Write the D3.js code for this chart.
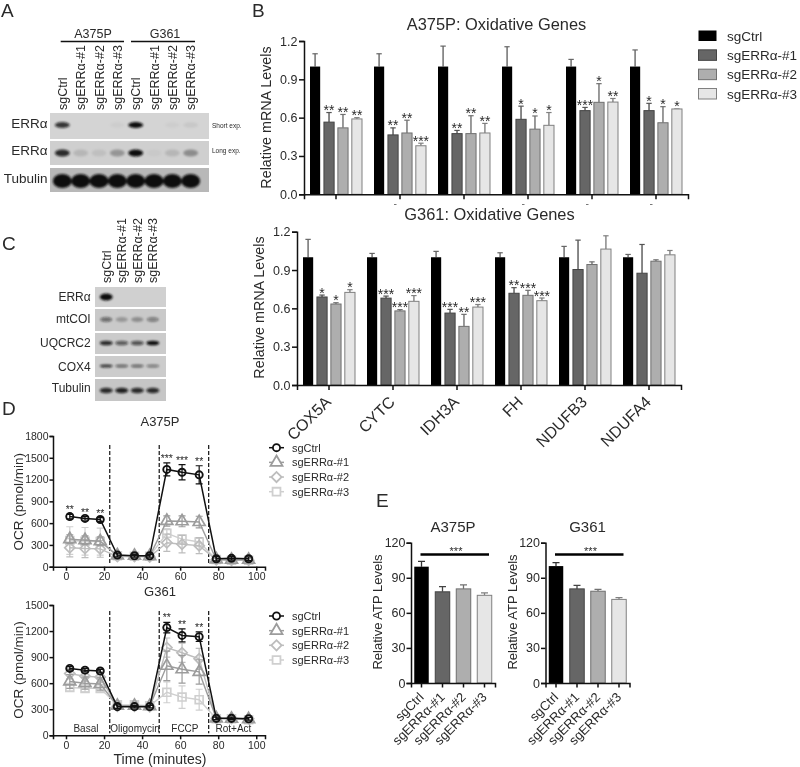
<!DOCTYPE html>
<html>
<head>
<meta charset="utf-8">
<script src="https://cdn.jsdelivr.net/npm/d3@7"></script>
<style>
  body { margin: 0; background: #fff; }
  svg { opacity: 0.999; }
  text { font-family: "Liberation Sans", Arial, sans-serif; fill: #2a2a2a; }
  .axis path, .axis line { stroke: #111; stroke-width: 1.5; }
  .axis text { fill: #2a2a2a; font-family: "Liberation Sans", Arial, sans-serif; }
</style>
</head>
<body>
<div id="figure"></div>
<script>
// groups used everywhere
var seriesNames = ["sgCtrl", "sgERRα-#1", "sgERRα-#2", "sgERRα-#3"];
var genes = ["COX5A", "CYTC", "IDH3A", "FH", "NDUFB3", "NDUFA4"];

// panel B, A375P (means, tops of the whiskers, stars), one row per gene
var a375Mean = [[1, .565, .52, .59], [1, .465, .48, .38], [1, .475, .475, .48],
  [1, .587, .51, .54], [1, .655, .72, .722], [1, .655, .56, .668]];
var a375Top = [[1.10, .64, .625, .60], [1.10, .52, .58, .40], [1.16, .50, .615, .555],
  [1.155, .69, .613, .64], [1.056, .68, .866, .75], [1.13, .712, .686, .668]];
var a375Stars = [["", "**", "**", "**"], ["", "**", "**", "***"], ["", "**", "**", "**"],
  ["", "*", "*", "*"], ["", "***", "*", "**"], ["", "*", "*", "*"]];
// the labels of this row are covered by the next chart, only a tip of these shows
var a375LabelTips = ["CYTC", "FH", "NDUFB3", "NDUFA4"];

// panel B, G361
var g361Mean = [[1, .689, .634, .725], [1, .68, .58, .655], [1, .563, .459, .61],
  [1, .718, .702, .66], [1, .904, .943, 1.064], [1, .875, .969, 1.019]];
var g361Top = [[1.14, .704, .644, .746], [1.03, .696, .59, .70], [1.046, .592, .553, .63],
  [1.035, .762, .741, .681], [1.085, 1.134, .964, 1.168], [1.022, 1.10, .98, 1.053]];
var g361Stars = [["", "*", "*", "*"], ["", "***", "***", "***"], ["", "***", "**", "***"],
  ["", "**", "***", "***"], ["", "", "", ""], ["", "", "", ""]];
var mrnaTicks = [0, .3, .6, .9, 1.2];

// panel D, seahorse traces
var minutes = [2, 10, 18, 27, 36, 44, 53, 61, 70, 79, 87, 96];
var injections = [23, 49, 75];
var a375Ocr = [
  [690, 665, 650, 160, 150, 150, 1340, 1300, 1265, 110, 115, 110],
  [380, 365, 350, 155, 150, 145, 630, 625, 615, 100, 95, 95],
  [260, 250, 245, 140, 140, 135, 330, 310, 290, 95, 90, 90],
  [360, 350, 345, 150, 145, 145, 460, 380, 340, 100, 90, 90]];
var a375OcrErr = [
  [30, 25, 25, 25, 20, 20, 90, 105, 125, 30, 25, 25],
  [60, 60, 60, 30, 30, 30, 70, 75, 80, 20, 20, 20],
  [125, 125, 115, 30, 30, 30, 120, 120, 110, 20, 20, 20],
  [190, 190, 185, 30, 30, 30, 60, 60, 60, 20, 20, 20]];
var a375OcrStars = ["**", "**", "**", "", "", "", "***", "***", "**", "", "", ""];

var g361Ocr = [
  [770, 750, 740, 330, 330, 330, 1240, 1150, 1135, 195, 195, 190],
  [620, 600, 590, 340, 340, 335, 800, 760, 730, 195, 190, 185],
  [710, 680, 670, 335, 335, 330, 1010, 950, 880, 195, 195, 190],
  [550, 540, 540, 350, 350, 340, 495, 440, 410, 190, 190, 180]];
var g361OcrErr = [
  [20, 20, 20, 20, 15, 15, 60, 75, 55, 15, 15, 15],
  [80, 70, 70, 30, 30, 30, 170, 160, 140, 20, 20, 20],
  [60, 60, 60, 30, 30, 30, 110, 110, 120, 20, 20, 20],
  [40, 40, 40, 40, 40, 40, 120, 130, 120, 20, 20, 20]];
var g361OcrStars = ["", "", "", "", "", "", "**", "**", "**", "", "", ""];
var phases = ["Basal", "Oligomycin", "FCCP", "Rot+Act"];
var phaseCenters = [10.5, 36.3, 62.5, 88];

// panel E
var atpA375 = [99.5, 78, 80.5, 75];
var atpA375Top = [104, 82.5, 84, 77];
var atpG361 = [100, 80.5, 78.5, 71.5];
var atpG361Top = [103, 83.5, 80, 73];
var atpTicks = [0, 30, 60, 90, 120];

// blots: band strength per lane
var blotARows = ["ERRα", "ERRα", "Tubulin"];
var blotAExposure = ["Short exp.", "Long exp.", ""];
var blotABands = [[.8, 0, 0, .03, 1, 0, .03, .06], [.85, .12, .08, .28, 1, .03, .12, .32], [1, 1, 1, 1, 1, 1, 1, 1]];
var blotCRows = ["ERRα", "mtCOI", "UQCRC2", "COX4", "Tubulin"];
var blotCBands = [[1, 0, 0, 0], [.5, .25, .3, .4], [.85, .6, .65, 1], [.8, .55, .55, .45], [.85, .9, .85, .85]];

// bar look, same four in B and E
var barFill = ["#000", "#666", "#aeaeae", "#e6e6e6"];
var barStroke = ["#000", "#444", "#707070", "#808080"];
var whisker = ["#666", "#555", "#707070", "#808080"];
// trace look in D
var traceColor = ["#111", "#9c9c9c", "#bdbdbd", "#cfcfcf"];
var traceSymbol = [d3.symbolCircle, d3.symbolTriangle, d3.symbolSquare, d3.symbolSquare];

var svg = d3.select("#figure").append("svg")
  .attr("width", 800)
  .attr("height", 767);

svg.append("defs").append("filter")
  .attr("id", "soft")
  .attr("x", "-40%").attr("y", "-60%").attr("width", "180%").attr("height", "220%")
  .append("feGaussianBlur").attr("stdDeviation", 1.1);

function label(x, y, str, size, anchor, rotate) {
  var t = svg.append("text")
    .attr("x", x)
    .attr("y", y)
    .attr("font-size", size)
    .attr("text-anchor", anchor || "start")
    .text(str);
  if (rotate) t.attr("transform", "rotate(" + rotate + "," + x + "," + y + ")");
  return t;
}

// panel letters
label(1, 17, "A", 19);
label(252, 17, "B", 19);
label(2, 250, "C", 19);
label(2, 415, "D", 19);
label(376, 507, "E", 19);

function drawBlot(lanes, rows, bands, opt) {
  var x = d3.scaleBand().domain(d3.range(lanes.length)).range(opt.lanes).paddingInner(0.2);
  rows.forEach(function (name, r) {
    var box = opt.boxes[r];
    svg.append("rect")
      .attr("x", opt.x0).attr("y", box[0])
      .attr("width", opt.x1 - opt.x0).attr("height", box[1] - box[0])
      .attr("fill", opt.bg[r]);
    svg.append("g")
      .attr("filter", "url(#soft)")
      .selectAll("ellipse")
      .data(bands[r])
      .enter().append("ellipse")
      .attr("cx", function (d, i) { return x(i) + x.bandwidth() / 2; })
      .attr("cy", opt.bandY[r])
      .attr("rx", opt.rx[r])
      .attr("ry", opt.ry[r])
      .attr("fill", "#111")
      .attr("fill-opacity", function (d) { return d; });
    label(opt.labelX, opt.labelY[r], name, opt.labelSize, "end");
  });
  lanes.forEach(function (name, i) {
    label(x(i) + x.bandwidth() / 2 + 4.5, opt.laneBottom, name, 12.5, "start", -90);
  });
}

var blotALanes = seriesNames.concat(seriesNames);
drawBlot(blotALanes, blotARows, blotABands, {
  lanes: [55, 198], x0: 50, x1: 209,
  boxes: [[113, 139], [141, 165], [168, 192]],
  bg: ["#d4d4d4", "#cfcfcf", "#b8b8b8"],
  bandY: [125, 153, 181], ry: [3, 3.5, 7], rx: [7.5, 7.5, 9.5],
  labelX: 47.5, labelY: [128, 155, 183], labelSize: 13.5, laneBottom: 110
});
blotAExposure.forEach(function (d, i) { label(212, [128, 153, 0][i], d, 6.5); });

label(93, 38, "A375P", 12.5, "middle");
label(165, 38, "G361", 12.5, "middle");
[[60.7, 124], [131, 195]].forEach(function (d) {
  svg.append("line").attr("x1", d[0]).attr("x2", d[1]).attr("y1", 41.5).attr("y2", 41.5)
    .attr("stroke", "#111").attr("stroke-width", 1.4);
});

drawBlot(seriesNames, blotCRows, blotCBands, {
  lanes: [100, 159], x0: 95, x1: 166,
  boxes: [[287, 307], [309, 331], [333, 354], [356, 377], [379, 401]],
  bg: ["#d0d0d0", "#c9c9c9", "#cbcbcb", "#cccccc", "#c6c6c6"],
  bandY: [297, 319.5, 343, 366, 390.5], ry: [3.5, 2.5, 2.3, 1.6, 2.8], rx: [6.5, 6, 6.5, 6.5, 6.5],
  labelX: 90.7, labelY: [301, 323, 347, 371, 392], labelSize: 12, laneBottom: 283
});

// panel B bars
function drawGeneBars(opt) {
  var x = d3.scaleBand().domain(genes).range([opt.x0, opt.x0 + 384]);
  var inner = d3.scaleBand().domain(d3.range(4)).range([-26, 26]).paddingInner(0.27);
  var y = d3.scaleLinear().domain([0, 1.2]).range([opt.y0, opt.y1]);

  var group = svg.selectAll(null)
    .data(genes)
    .enter().append("g")
    .attr("transform", function (d) { return "translate(" + (x(d) + x.bandwidth() / 2) + ",0)"; });

  group.each(function (gene, g) {
    var sel = d3.select(this);
    d3.range(4).forEach(function (s) {
      var bx = inner(s) + inner.bandwidth() / 2;
      sel.append("line")
        .attr("x1", bx).attr("x2", bx)
        .attr("y1", y(opt.mean[g][s])).attr("y2", y(opt.top[g][s]))
        .attr("stroke", whisker[s]).attr("stroke-width", 1.4);
      sel.append("line")
        .attr("x1", bx - 2.7).attr("x2", bx + 2.7)
        .attr("y1", y(opt.top[g][s])).attr("y2", y(opt.top[g][s]))
        .attr("stroke", whisker[s]).attr("stroke-width", 1.2);
      sel.append("rect")
        .attr("x", inner(s))
        .attr("width", inner.bandwidth())
        .attr("y", y(opt.mean[g][s]))
        .attr("height", opt.y0 - y(opt.mean[g][s]))
        .attr("fill", barFill[s])
        .attr("stroke", barStroke[s])
        .attr("stroke-width", s ? 1 : 0);
      if (opt.stars[g][s]) {
        sel.append("text")
          .attr("x", bx).attr("y", y(opt.top[g][s]) + 2.5)
          .attr("text-anchor", "middle")
          .attr("font-size", 14)
          .text(opt.stars[g][s]);
      }
    });
  });

  var yAxis = svg.append("g").attr("class", "axis")
    .attr("transform", "translate(" + opt.x0 + ",0)")
    .call(d3.axisLeft(y).tickValues(mrnaTicks).tickFormat(d3.format(".1f")).tickSizeOuter(0).tickSize(5).tickPadding(1.5));
  yAxis.selectAll("text").attr("font-size", 12.5);

  var xAxis = svg.append("g").attr("class", "axis")
    .attr("transform", "translate(0," + opt.y0 + ")")
    .call(d3.axisBottom(x).tickSizeOuter(0).tickSize(5).tickFormat(opt.names ? null : ""));
  xAxis.selectAll("text")
    .attr("font-size", 16)
    .attr("text-anchor", "end")
    .attr("x", 0)
    .attr("y", 0)
    .attr("dy", 0)
    .attr("transform", "translate(3,18) rotate(-45)");

  if (opt.tips) {
    svg.selectAll(null).data(opt.tips).enter().append("line")
      .attr("x1", function (d) { return x(d) + x.bandwidth() / 2 - 6; })
      .attr("x2", function (d) { return x(d) + x.bandwidth() / 2 - 3.5; })
      .attr("y1", 204.5).attr("y2", 204.5)
      .attr("stroke", "#777").attr("stroke-width", 1);
  }
}

drawGeneBars({ x0: 304, y0: 194.3, y1: 41, mean: a375Mean, top: a375Top, stars: a375Stars, names: false, tips: a375LabelTips });
drawGeneBars({ x0: 297, y0: 385, y1: 231.7, mean: g361Mean, top: g361Top, stars: g361Stars, names: true });

label(496.5, 30, "A375P: Oxidative Genes", 16.4, "middle");
label(489.5, 220, "G361: Oxidative Genes", 16.4, "middle");
label(271, 117.5, "Relative mRNA Levels", 14.3, "middle", -90);
label(264, 307.5, "Relative mRNA Levels", 14.3, "middle", -90);

// panel B legend
var legendY = d3.scalePoint().domain(seriesNames).range([35.5, 93.5]);
seriesNames.forEach(function (name, i) {
  svg.append("rect")
    .attr("x", 698.5).attr("y", legendY(name) - 5)
    .attr("width", 18).attr("height", 10.5)
    .attr("fill", barFill[i]).attr("stroke", barStroke[i]).attr("stroke-width", i ? 1 : 0);
  label(727, legendY(name) + 5, name, 13.5);
});

// panel D traces
function markerPath(s) {
  if (s == 2) return d3.symbol().type(d3.symbolSquare).size(52)();
  return d3.symbol().type(traceSymbol[s]).size(s == 0 ? 40 : 62)();
}

function drawTrace(opt) {
  var x = d3.scaleLinear().domain([-6.83, 104.6]).range([53, 265]);
  var y = d3.scaleLinear().domain([0, opt.yMax]).range([opt.y0, opt.y1]);
  var line = d3.line().x(function (d, i) { return x(minutes[i]); }).y(function (d) { return y(d); });

  // dashed injection lines
  svg.selectAll(null).data(injections).enter().append("line")
    .attr("x1", x).attr("x2", x)
    .attr("y1", opt.dashTop).attr("y2", opt.y0 - 2)
    .attr("stroke", "#111").attr("stroke-width", 1.2)
    .attr("stroke-dasharray", "4,2");

  // controls last so they sit on top
  [3, 2, 1, 0].forEach(function (s) {
    var g = svg.append("g");
    g.append("path")
      .attr("d", line(opt.ocr[s]))
      .attr("fill", "none")
      .attr("stroke", traceColor[s])
      .attr("stroke-width", s ? 1.4 : 1.5);
    opt.ocr[s].forEach(function (v, i) {
      var e = opt.err[s][i];
      g.append("path")
        .attr("d", "M" + (x(minutes[i]) - 3.5) + "," + y(v + e) + "h7M" + x(minutes[i]) + "," + y(v + e) +
          "V" + y(v - e) + "M" + (x(minutes[i]) - 3.5) + "," + y(v - e) + "h7")
        .attr("fill", "none")
        .attr("stroke", traceColor[s])
        .attr("stroke-width", 1.2);
      g.append("path")
        .attr("d", markerPath(s))
        .attr("transform", "translate(" + x(minutes[i]) + "," + y(v) + ")" + (s == 2 ? " rotate(45)" : ""))
        .attr("fill", "none")
        .attr("stroke", traceColor[s])
        .attr("stroke-width", s ? 1.7 : 1.9);
    });
  });

  svg.selectAll(null).data(opt.stars).enter().append("text")
    .attr("x", function (d, i) { return x(minutes[i]); })
    .attr("y", function (d, i) { return y(opt.ocr[0][i] + opt.err[0][i]) - 1; })
    .attr("text-anchor", "middle")
    .attr("font-size", 10.5)
    .text(function (d) { return d; });

  var yAxis = svg.append("g").attr("class", "axis")
    .attr("transform", "translate(53,0)")
    .call(d3.axisLeft(y).tickValues(opt.yTicks).tickSizeOuter(0).tickSize(3.5).tickPadding(1).tickFormat(d3.format("d")));
  yAxis.selectAll("text").attr("font-size", 10.5);
  var xAxis = svg.append("g").attr("class", "axis")
    .attr("transform", "translate(0," + opt.y0 + ")")
    .call(d3.axisBottom(x).tickValues([0, 20, 40, 60, 80, 100]).tickSizeOuter(0).tickSize(4).tickPadding(2));
  xAxis.selectAll("text").attr("font-size", 10.5);

  // trace legend
  var ly = d3.scalePoint().domain(seriesNames).range(opt.legend);
  seriesNames.forEach(function (name, s) {
    svg.append("line")
      .attr("x1", 269).attr("x2", 284).attr("y1", ly(name)).attr("y2", ly(name))
      .attr("stroke", traceColor[s]).attr("stroke-width", 1.5);
    svg.append("path")
      .attr("d", markerPath(s))
      .attr("transform", "translate(276.5," + ly(name) + ")" + (s == 2 ? " rotate(45)" : ""))
      .attr("fill", "#fff")
      .attr("stroke", traceColor[s])
      .attr("stroke-width", 1.8);
    label(292, ly(name) + 4, name, 11);
  });
  return x;
}

drawTrace({
  y0: 566.7, y1: 436, yMax: 1800, yTicks: [0, 300, 600, 900, 1200, 1500, 1800],
  ocr: a375Ocr, err: a375OcrErr, stars: a375OcrStars, dashTop: 445, legend: [447.7, 491.7]
});
var traceX = drawTrace({
  y0: 735.3, y1: 605, yMax: 1500, yTicks: [0, 300, 600, 900, 1200, 1500],
  ocr: g361Ocr, err: g361OcrErr, stars: g361OcrStars, dashTop: 611, legend: [616, 660]
});
phases.forEach(function (d, i) { label(traceX(phaseCenters[i]), 732, d, 10, "middle"); });

label(160, 426, "A375P", 13, "middle");
label(160, 596, "G361", 13, "middle");
label(23, 501.7, "OCR (pmol/min)", 13.5, "middle", -90);
label(23, 670, "OCR (pmol/min)", 13.5, "middle", -90);
label(160, 764, "Time (minutes)", 14, "middle");

// panel E bars
function drawAtp(opt) {
  var x = d3.scaleBand().domain(seriesNames).range([opt.x0, opt.x0 + 84]).paddingInner(0.31).paddingOuter(0.155);
  var y = d3.scaleLinear().domain([0, 120]).range([683, 542.7]);

  seriesNames.forEach(function (name, s) {
    var cx = x(name) + x.bandwidth() / 2;
    svg.append("path")
      .attr("d", "M" + cx + "," + y(opt.mean[s]) + "V" + y(opt.top[s]) + "M" + (cx - 3.5) + "," + y(opt.top[s]) + "h7")
      .attr("fill", "none").attr("stroke", s ? barStroke[s] : "#333").attr("stroke-width", 1.3);
    svg.append("rect")
      .attr("x", x(name)).attr("width", x.bandwidth())
      .attr("y", y(opt.mean[s])).attr("height", 683 - y(opt.mean[s]))
      .attr("fill", barFill[s]).attr("stroke", barStroke[s]).attr("stroke-width", s ? 1 : 0);
  });

  var yAxis = svg.append("g").attr("class", "axis")
    .attr("transform", "translate(" + opt.x0 + ",0)")
    .call(d3.axisLeft(y).tickValues(atpTicks).tickSizeOuter(0).tickSize(4.5).tickPadding(1));
  yAxis.selectAll("text").attr("font-size", 12.5);
  var xAxis = svg.append("g").attr("class", "axis")
    .attr("transform", "translate(0,683)")
    .call(d3.axisBottom(x).tickSizeOuter(0).tickSize(4.5));
  xAxis.selectAll("text")
    .attr("font-size", 13)
    .attr("text-anchor", "end")
    .attr("x", 0)
    .attr("y", 0)
    .attr("dy", 0)
    .attr("transform", "translate(3,15) rotate(-45)");

  svg.append("line")
    .attr("x1", opt.x0 + 9.5).attr("x2", opt.x0 + 78)
    .attr("y1", 554.5).attr("y2", 554.5)
    .attr("stroke", "#000").attr("stroke-width", 2.4);
  label(opt.x0 + 45, 555, "***", 11, "middle");
  label(opt.x0 + 42, 532, opt.title, 15, "middle");
  label(opt.x0 - 29, 612, "Relative ATP Levels", 13, "middle", -90);
}

drawAtp({ x0: 411, mean: atpA375, top: atpA375Top, title: "A375P" });
drawAtp({ x0: 545.5, mean: atpG361, top: atpG361Top, title: "G361" });
</script>
</body>
</html>
